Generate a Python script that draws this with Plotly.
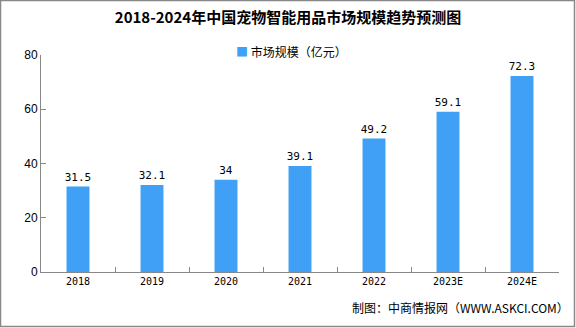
import plotly.graph_objects as go

years = ["2018", "2019", "2020", "2021", "2022", "2023E", "2024E"]
values = [31.5, 32.1, 34, 39.1, 49.2, 59.1, 72.3]
labels = ["31.5", "32.1", "34", "39.1", "49.2", "59.1", "72.3"]
series_name = "市场规模（亿元）"
bar_color = "#3FA0F5"

W, H = 576, 328
L, R, T, B = 41, 17, 55, 56
pw, ph = W - L - R, H - T - B

fig = go.Figure()
fig.add_trace(go.Bar(
    x=years, y=values, name=series_name,
    marker=dict(color=bar_color, line=dict(width=0)),
    text=labels, textposition="outside", constraintext="none",
    textfont=dict(family="DejaVu Sans Mono, monospace", size=11, color="#000"),
    cliponaxis=False, showlegend=False,
))

fig.update_layout(
    width=W, height=H,
    margin=dict(l=L, r=R, t=T, b=B),
    paper_bgcolor="white", plot_bgcolor="white",
    bargap=0.69,
    title=dict(text="<b>2018-2024年中国宠物智能用品市场规模趋势预测图</b>",
               x=0.5, xanchor="center", y=1 - 18 / H, yanchor="middle",
               font=dict(family="Noto Sans CJK SC", size=15, color="#000")),
    xaxis=dict(showline=True, linecolor="#888", linewidth=1, ticks="inside",
               tickson="boundaries", ticklen=5, tickcolor="#888",
               tickfont=dict(family="DejaVu Sans Mono, monospace", size=10, color="#000"),
               showgrid=False),
    yaxis=dict(range=[0, 80], dtick=20, showline=True, linecolor="#888", linewidth=1,
               ticks="inside", ticklen=5, tickcolor="#888", showgrid=False, zeroline=False,
               tickfont=dict(family="Liberation Sans, Arial", size=12, color="#000")),
    font=dict(family="Noto Sans CJK SC"),
)

# legend drawn as text (square marker + label)
fig.add_annotation(text=f"<span style='color:{bar_color}'>■</span> {series_name}",
                   xref="paper", yref="paper",
                   x=(234 - L) / pw, y=1 + (T - 52) / ph, xanchor="left", yanchor="middle",
                   showarrow=False,
                   font=dict(family="Noto Sans CJK SC", size=12, color="#000"))

fig.add_annotation(text="制图：中商情报网（WWW.ASKCI.COM）", xref="paper", yref="paper",
                   x=1 + 12 / pw, y=-(307 - (T + ph)) / ph, xanchor="right", yanchor="middle",
                   showarrow=False,
                   font=dict(family="Noto Sans CJK SC", size=12, color="#000"))

fig.add_shape(type="rect", xref="paper", yref="paper",
              x0=-(L - 0.5) / pw, x1=1 + (R - 1.5) / pw,
              y0=-(B - 1.5) / ph, y1=1 + (T - 0.5) / ph,
              line=dict(color="#888", width=1.5))

fig.write_html("out.html")
